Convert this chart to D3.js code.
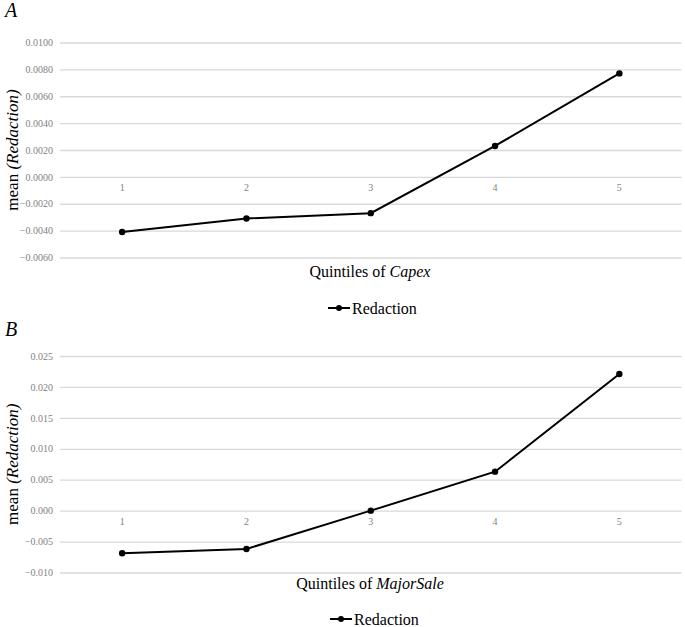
<!DOCTYPE html>
<html>
<head>
<meta charset="utf-8">
<script src="https://cdn.jsdelivr.net/npm/d3@7"></script>
<style>
  body { margin: 0; background: #fff; }
</style>
</head>
<body>
<div id="chart"></div>
<script>
const quintiles = ["1", "2", "3", "4", "5"];
const capexValues = [-0.0041, -0.0031, -0.0027, 0.0023, 0.0077];
const capexTicks = [-0.006, -0.004, -0.002, 0, 0.002, 0.004, 0.006, 0.008, 0.010];
const majorSaleValues = [-0.0069, -0.0062, 0.0000, 0.0063, 0.0221];
const majorSaleTicks = [-0.010, -0.005, 0, 0.005, 0.010, 0.015, 0.020, 0.025];
const seriesName = "Redaction";
const serif = "Liberation Serif";

const svg = d3.select("#chart").append("svg")
    .attr("width", 685)
    .attr("height", 627)
    .attr("font-family", serif);

function drawPanel(opts) {
    const g = svg.append("g");
    const x = d3.scaleBand().domain(quintiles).range([60, 681.5]);
    const y = d3.scaleLinear()
        .domain([opts.ticks[0], opts.ticks[opts.ticks.length - 1]])
        .range([opts.bottom, opts.top]);

    // panel letter
    g.append("text")
        .attr("x", 5).attr("y", opts.letterY)
        .style("font-size", "20px").style("font-style", "italic")
        .text(opts.letter);

    // grid + y labels via axis
    const yAxis = d3.axisLeft(y)
        .tickValues(opts.ticks)
        .tickSize(-(681.5 - 60))
        .tickPadding(7)
        .tickFormat(d3.format(opts.fmt));
    const ag = g.append("g").attr("transform", "translate(60,0)").call(yAxis)
        .attr("font-family", serif);
    ag.select(".domain").remove();
    ag.selectAll(".tick line").attr("stroke", "#d9d9d9").attr("stroke-width", 1.3);
    ag.selectAll(".tick text")
        .attr("fill", "#7f7f7f")
        .style("font-size", "10px");

    // category labels just below zero line
    g.selectAll(".cat").data(quintiles).enter().append("text")
        .attr("x", d => x(d) + x.bandwidth() / 2)
        .attr("y", y(0) + 14)
        .attr("text-anchor", "middle")
        .attr("fill", "#7f7f7f")
        .style("font-size", "10px")
        .text(d => d);

    // line
    const line = d3.line()
        .x((d, i) => x(quintiles[i]) + x.bandwidth() / 2)
        .y(d => y(d));
    g.append("path")
        .datum(opts.values)
        .attr("d", line)
        .attr("fill", "none")
        .attr("stroke", "#000")
        .attr("stroke-width", 2);
    g.selectAll(".pt").data(opts.values).enter().append("circle")
        .attr("cx", (d, i) => x(quintiles[i]) + x.bandwidth() / 2)
        .attr("cy", d => y(d))
        .attr("r", 3.2)
        .attr("fill", "#000");

    // y title
    const yt = g.append("text")
        .attr("transform", `translate(18,${(opts.top + opts.bottom) / 2}) rotate(-90)`)
        .attr("text-anchor", "middle")
        .style("font-size", "17px");
    yt.append("tspan").text("mean ");
    yt.append("tspan").style("font-style", "italic").text("(Redaction)");

    // x title
    const xt = g.append("text")
        .attr("x", 370).attr("y", opts.xTitleY)
        .attr("text-anchor", "middle")
        .style("font-size", "16px");
    xt.append("tspan").text("Quintiles of ");
    xt.append("tspan").style("font-style", "italic").text(opts.xName);

    // legend
    const lg = g.append("g").attr("transform", `translate(${opts.legendX},${opts.legendY})`);
    lg.append("line").attr("x1", 0).attr("x2", 22).attr("y1", 0).attr("y2", 0)
        .attr("stroke", "#000").attr("stroke-width", 2);
    lg.append("circle").attr("cx", 11).attr("cy", 0).attr("r", 3).attr("fill", "#000");
    lg.append("text").attr("x", 24).attr("y", 5.5)
        .style("font-size", "16px").text(seriesName);
}

drawPanel({
    letter: "A", letterY: 17,
    values: capexValues, ticks: capexTicks, fmt: ".4f",
    top: 42.5, bottom: 257.5,
    xName: "Capex", xTitleY: 277,
    legendX: 328, legendY: 308
});

drawPanel({
    letter: "B", letterY: 336,
    values: majorSaleValues, ticks: majorSaleTicks, fmt: ".3f",
    top: 356, bottom: 572.5,
    xName: "MajorSale", xTitleY: 589,
    legendX: 330, legendY: 619
});
</script>
</body>
</html>
